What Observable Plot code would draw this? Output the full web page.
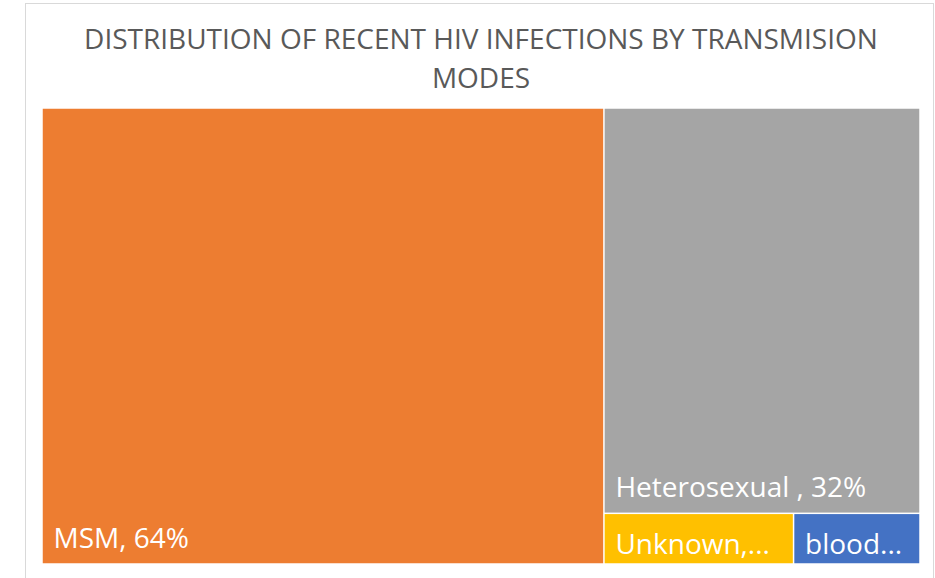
<!DOCTYPE html>
<html>
<head>
<meta charset="utf-8">
<script src="https://cdn.jsdelivr.net/npm/d3@7"></script>
<script src="https://cdn.jsdelivr.net/npm/@observablehq/plot@0.6"></script>
<style>
  html, body { margin: 0; padding: 0; background: #fff; overflow: hidden; width: 935px; height: 578px; }
  #frame { position: absolute; left: 25px; top: 3px; width: 909px; height: 600px; border: 1px solid #d9d9d9; box-sizing: border-box; }
  #title { position: absolute; left: 25px; width: 912px; top: 19px; text-align: center; font-family: "Open Sans", sans-serif; font-size: 28px; line-height: 39px; color: #595959; }
  #chart { position: absolute; left: 42px; top: 108px; }
</style>
</head>
<body>
<div id="frame"></div>
<div id="title">DISTRIBUTION OF RECENT HIV INFECTIONS BY TRANSMISION<br>MODES</div>
<div id="chart"></div>
<script>
const categories = ["MSM", "Heterosexual", "Unknown", "blood"];
const values = [64, 32, 2.4, 1.6];
const labels = ["MSM, 64%", "Heterosexual , 32%", "Unknown,...", "blood..."];
const colors = ["#ED7D31", "#A5A5A5", "#FFC000", "#4472C4"];

const W = 878, H = 456;
const root = d3.hierarchy({children: categories.map((c, i) => ({name: c, value: values[i], label: labels[i], color: colors[i]}))})
  .sum(d => d.value || 0);
d3.treemap().tile(d3.treemapSquarify).size([W, H]).round(false)(root);
const tiles = root.leaves().map(l => ({...l.data, x0: l.x0, x1: l.x1, y0: l.y0, y1: l.y1}));

const plot = Plot.plot({
  width: W, height: H,
  margin: 0,
  x: {domain: [0, W], axis: null},
  y: {domain: [0, H], reverse: true, axis: null},
  style: {fontFamily: "'Open Sans', sans-serif", background: "transparent"},
  marks: [
    Plot.rect(tiles, {x1: "x0", x2: "x1", y1: "y0", y2: "y1", fill: d => d.color, inset: 0.75}),
    Plot.text(tiles, {x: "x0", y: d => Math.max(d.y1 - 17, d.y0 + 40), text: "label", fill: "white", fontSize: 28, textAnchor: "start", lineAnchor: "bottom", dx: 11})
  ]
});
document.getElementById("chart").appendChild(plot);
</script>
</body>
</html>
